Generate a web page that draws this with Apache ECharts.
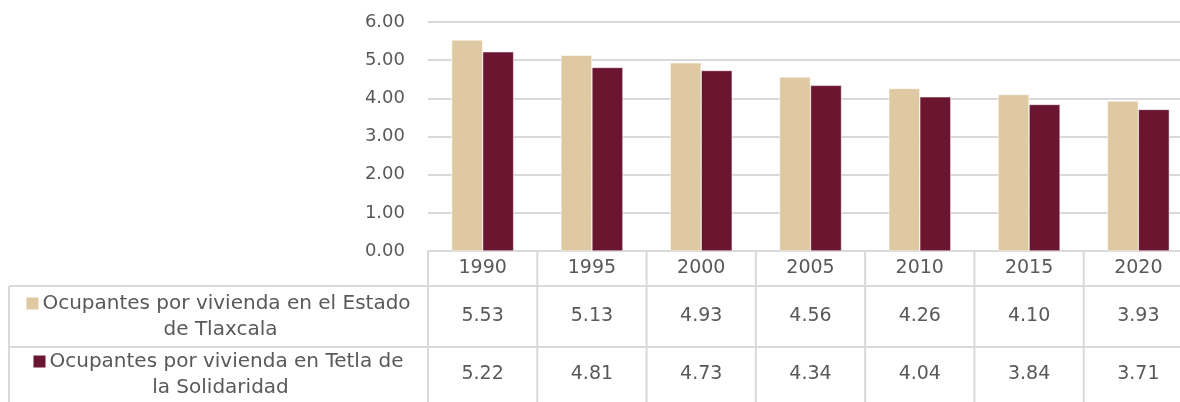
<!DOCTYPE html>
<html>
<head>
<meta charset="utf-8">
<script src="https://cdn.jsdelivr.net/npm/echarts@6/dist/echarts.min.js"></script>
<style>
  html, body { margin: 0; padding: 0; background: #fff; }
  #chart { width: 1180px; height: 402px; }
</style>
</head>
<body>
<div id="chart"></div>
<script>
  var years = ['1990', '1995', '2000', '2005', '2010', '2015', '2020'];
  var estado = [5.53, 5.13, 4.93, 4.56, 4.26, 4.10, 3.93];
  var tetla = [5.22, 4.81, 4.73, 4.34, 4.04, 3.84, 3.71];
  var names = ['Ocupantes por vivienda en el Estado\nde Tlaxcala', 'Ocupantes por vivienda en Tetla de\nla Solidaridad'];
  var colors = ['#dfc9a2', '#6b1631'];

  var W = 1180, H = 402;
  // plot runs a bit past the right edge, like the source picture
  var gLeft = 428, gWidth = 765, gTop = 22, gBottom = 151;
  var rowY = [251, 286, 347, 402];
  var lineColor = '#d9d9d9';
  var textColor = '#595959';
  var font = '"DejaVu Sans", sans-serif';

  var chart = echarts.init(document.getElementById('chart'));

  // table borders
  var graphics = [];
  var colW = gWidth / years.length;
  function hline(x1, x2, y) {
    graphics.push({ type: 'line', shape: { x1: x1, y1: y, x2: x2, y2: y }, style: { stroke: lineColor, lineWidth: 2 }, silent: true });
  }
  function vline(x, y1, y2) {
    graphics.push({ type: 'line', shape: { x1: x, y1: y1, x2: x, y2: y2 }, style: { stroke: lineColor, lineWidth: 2 }, silent: true });
  }
  hline(9, W, rowY[1]);
  hline(9, W, rowY[2]);
  vline(9, rowY[1], H);
  for (var i = 0; i <= years.length; i++) {
    vline(gLeft + i * colW, rowY[0], H);
  }
  // row headers with legend squares
  names.forEach(function (n, k) {
    var parts = n.split('\n');
    graphics.push({
      type: 'text',
      x: (9 + gLeft) / 2,
      y: (rowY[k + 1] + rowY[k + 2]) / 2,
      silent: true,
      style: {
        text: '{sq|}{t|' + parts[0] + '}\n{t|' + parts[1] + '}',
        align: 'center',
        verticalAlign: 'middle',
        fill: textColor,
        font: '20px ' + font,
        lineHeight: 26,
        rich: {
          sq: { width: 12, height: 12, backgroundColor: colors[k] },
          t: { fontSize: 20, fontFamily: font, lineHeight: 26, padding: [0, 0, 0, 4] }
        }
      }
    });
  });

  chart.setOption({
    animation: false,
    textStyle: { fontFamily: font },
    grid: { left: gLeft, width: gWidth, top: gTop, bottom: gBottom, outerBoundsMode: 'none' },
    xAxis: {
      type: 'category',
      data: years,
      axisLine: { lineStyle: { color: lineColor, width: 2 } },
      axisTick: { show: false },
      axisLabel: {
        margin: 0,
        interval: 0,
        formatter: function (v, idx) {
          return '{y|' + v + '}\n{a|' + estado[idx].toFixed(2) + '}\n{b|' + tetla[idx].toFixed(2) + '}';
        },
        rich: {
          y: { fontSize: 19, lineHeight: 35, color: textColor, fontFamily: font },
          a: { fontSize: 19, lineHeight: 61, color: textColor, fontFamily: font },
          b: { fontSize: 19, lineHeight: 55, color: textColor, fontFamily: font }
        }
      }
    },
    yAxis: {
      type: 'value',
      min: 0,
      max: 6,
      interval: 1,
      axisLine: { show: false },
      axisTick: { show: false },
      splitLine: { lineStyle: { color: lineColor, width: 2 } },
      axisLabel: {
        margin: 23,
        color: textColor,
        fontSize: 18,
        fontFamily: font,
        formatter: function (v) { return v.toFixed(2); }
      }
    },
    series: [
      { name: 'estado', type: 'bar', data: estado, barWidth: 31, barGap: '0%', itemStyle: { color: colors[0], borderColor: '#fff', borderWidth: 0.5 } },
      { name: 'tetla', type: 'bar', data: tetla, barWidth: 31, barGap: '0%', itemStyle: { color: colors[1], borderColor: '#fff', borderWidth: 0.5 } }
    ],
    graphic: graphics
  });
</script>
</body>
</html>
